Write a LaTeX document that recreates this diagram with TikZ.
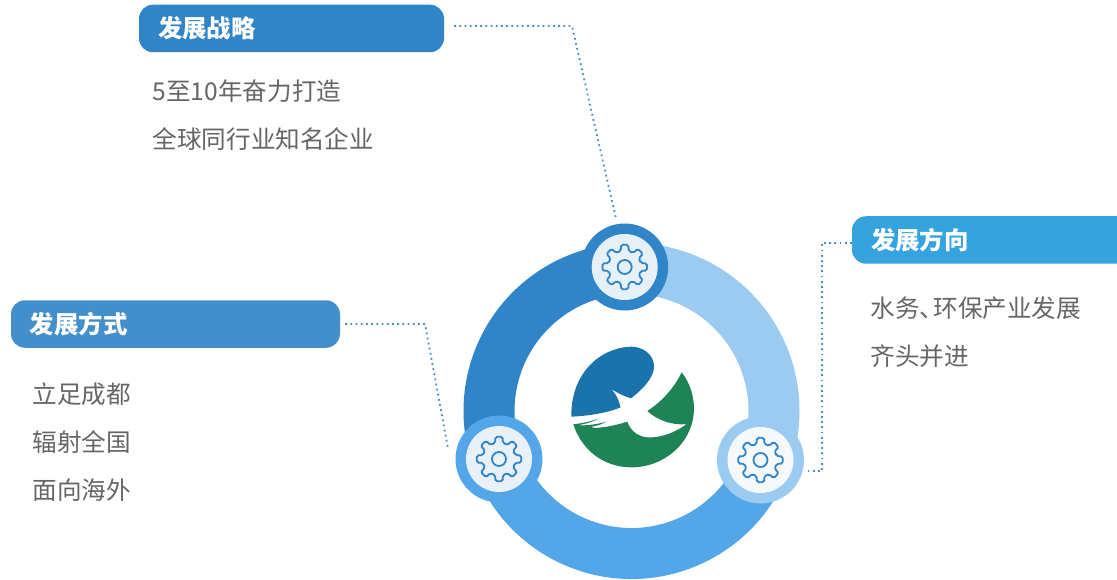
\documentclass[tikz,border=0pt]{standalone}
\usepackage{fontspec}
\setmainfont{Noto Sans CJK SC}
\definecolor{cDark}{HTML}{3084C8}
\definecolor{cLight}{HTML}{9CCBF2}
\definecolor{cMid}{HTML}{53A6E8}
\definecolor{cHdrL}{HTML}{438FCC}
\definecolor{cHdrR}{HTML}{36A3DE}
\definecolor{cBody}{HTML}{666666}
\definecolor{cDot}{HTML}{4A90C8}
\definecolor{cLogoB}{HTML}{1A74AB}
\definecolor{cLogoG}{HTML}{1F8455}
\tikzset{
  hdr/.style={rounded corners=14pt,inner xsep=19pt,inner ysep=0pt,minimum height=47.5pt,text=white,align=left,font=\fontsize{24.4}{24.4}\selectfont\bfseries},
  bodytxt/.style={anchor=west,inner sep=0pt,align=left,text=cBody,font=\fontsize{24.6}{48}\selectfont},
  link/.style={cDot,line width=1.8pt,dash pattern=on 1.8pt off 3.4pt},
  ringseg/.style={line width=51pt},
  hub/.style={circle,draw=none,inner sep=0pt,minimum size=87pt},
  hubin/.style={circle,draw=none,inner sep=0pt,minimum size=66pt},
  gearicon/.pic={
    \draw[cDark,line width=1.8pt,rounded corners=1.6pt]
      (-14:16.5) \foreach \a in {0,45,...,315}{
        -- ({\a-14}:16.5) -- ({\a-9}:22.5) -- ({\a+9}:22.5) -- ({\a+14}:16.5)
      } -- cycle;
    \draw[cDark,line width=1.8pt] (0,0) circle (7);
  }
}
\begin{document}
\begin{tikzpicture}[x=1pt,y=-1pt]
\useasboundingbox (0,0) rectangle (1117,580);
\fill[white] (0,0) rectangle (1117,580);
% ring
\def\cx{631.5}\def\cy{411}\def\rr{142.5}
\draw[ringseg,cMid] (\cx,\cy) ++(20:\rr) arc[start angle=20,end angle=160,radius=\rr];
\draw[ringseg,cDark] (\cx,\cy) ++(160:\rr) arc[start angle=160,end angle=270,radius=\rr];
\draw[ringseg,cLight] (\cx,\cy) ++(-90:\rr) arc[start angle=-90,end angle=20,radius=\rr];
% connector corners
\coordinate (k1) at (572,26);
\coordinate (k2) at (822,243);
\coordinate (k3) at (822,471);
\coordinate (k4) at (425,324);
% hubs
\node[hub,fill=cDark,minimum size=87pt] (hubT) at (624.7,267) {};
\node[hubin,fill=cDark!12!white] at (hubT) {};
\pic at (hubT) {gearicon};
\node[hub,fill=cLight] (hubR) at (760.5,460) {};
\node[hubin,fill=cDark!5!white] at (hubR) {};
\pic at (hubR) {gearicon};
\node[hub,fill=cMid] (hubL) at (499,459) {};
\node[hubin,fill=cDark!11!white] at (hubL) {};
\pic at (hubL) {gearicon};
% headers
\node[hdr,fill=cDark,minimum width=305pt,text width=267pt] (h1) at (291.5,28.5) {\raisebox{1pt}{发展战略}};
\node[hdr,fill=cHdrR,minimum width=290pt,text width=252pt,xshift=-1pt] (h2) at (998,240) {\raisebox{1pt}{发展方向}};
\node[hdr,fill=cHdrL,minimum width=329pt,text width=291pt] (h3) at (175.5,324) {\raisebox{1pt}{发展方式}};
% bodies
\node[bodytxt] (b1) at (152.5,115) {5至10年奋力打造\\全球同行业知名企业};
\node[bodytxt] (b2) at (870.5,332.5) {水务、\kern-11pt 环保产业发展\\齐头并进};
\node[bodytxt] (b3) at (32.5,442) {立足成都\\辐射全国\\面向海外};
% connectors
\draw[link] ([xshift=10pt,yshift=2.5pt]h1.east) -- (k1) -- ([xshift=-9pt,yshift=6pt]hubT.north);
\draw[link] (h2.west |- k2) -- (k2) -- (k3) -- ([yshift=-11pt]hubR.east);
\draw[link] ([xshift=5pt]h3.east) -- (k4) -- ([xshift=-7pt,yshift=9pt]hubL.west);
% logo
\begin{scope}[shift={(550,330)},x=0.3333pt,y=-0.3333pt]
\fill[cLogoB] (64,260) .. controls (62,130) and (150,52) .. (245,50)
  .. controls (295,52) and (320,90) .. (310,125)
  .. controls (300,155) and (275,180) .. (243,205)
  .. controls (225,200) and (205,190) .. (185,178)
  .. controls (200,195) and (208,215) .. (212,232)
  .. controls (170,250) and (110,258) .. (64,260) -- cycle;
\fill[cLogoG] (395,127) .. controls (422,160) and (432,205) .. (432,235)
  .. controls (432,335) and (345,412) .. (245,412)
  .. controls (160,412) and (95,360) .. (70,283)
  .. controls (95,280) and (125,274) .. (148,265)
  .. controls (130,275) and (105,282) .. (85,286)
  .. controls (115,287) and (145,282) .. (170,275)
  .. controls (155,283) and (140,288) .. (122,291)
  -- (135,294)
  .. controls (170,292) and (205,284) .. (232,275)
  .. controls (240,298) and (258,318) .. (290,322)
  .. controls (335,325) and (380,305) .. (410,282)
  .. controls (370,288) and (320,270) .. (292,243)
  .. controls (335,215) and (372,175) .. (395,127) -- cycle;
\end{scope}
\end{tikzpicture}
\end{document}
